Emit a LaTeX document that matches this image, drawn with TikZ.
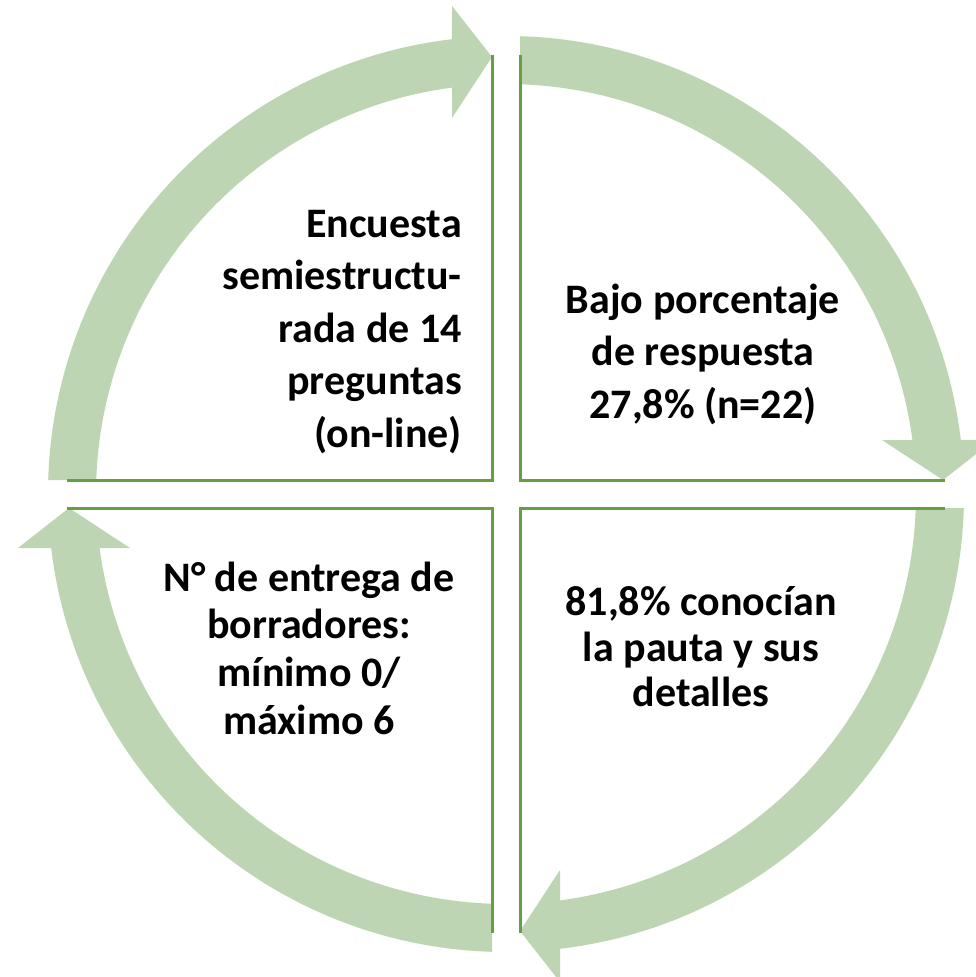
\documentclass[tikz,border=0pt]{standalone}
\usepackage{fontspec}
\setmainfont{Carlito}
\definecolor{arrowgreen}{RGB}{189,213,178}
\definecolor{linegreen}{RGB}{100,160,64}
\begin{document}
\begin{tikzpicture}[x=1pt,y=1pt,
  cyclearrow/.style={fill=arrowgreen,draw=none},
  quadline/.style={draw=linegreen,line width=3pt},
  quadtext/.style={font=\bfseries\fontsize{42}{52.5}\selectfont,inner sep=0pt}]
\useasboundingbox (0,0) rectangle (976,-977);
\clip (0,0) rectangle (976,-977);
\fill[white] (0,0) rectangle (976,-977);
\foreach \r in {0,-90,-180,-270}{
 \begin{scope}[shift={(506,-494)},rotate=\r]
  \path[cyclearrow] (-457.8,14) arc[start angle=178.25,end angle=96.77,radius=458] -- (-54,488) -- (-14,437) -- (-54,376) -- (-54,406.4) arc[start angle=97.57,end angle=178.04,radius=410] -- cycle;
  \draw[quadline] (-439,14) -- (-14,14) -- (-14,439);
 \end{scope}
}
\node[quadtext,align=right,anchor=east] (tl) at (462,-332) {Encuesta\\semiestructu-\\rada de 14\\preguntas\\(on-line)};
\node[quadtext,align=center] (tr) at (703,-354) {Bajo porcentaje\\de respuesta\\27,8\% (n=22)};
\node[quadtext,align=center,font=\bfseries\fontsize{42}{47.7}\selectfont] (bl) at (309,-648) {N° de entrega de\\borradores:\\mínimo 0/\\máximo 6};
\node[quadtext,align=center,font=\bfseries\fontsize{42}{45.5}\selectfont] (br) at (701,-647) {81,8\% conocían\\la pauta y sus\\detalles};
\end{tikzpicture}
\end{document}
